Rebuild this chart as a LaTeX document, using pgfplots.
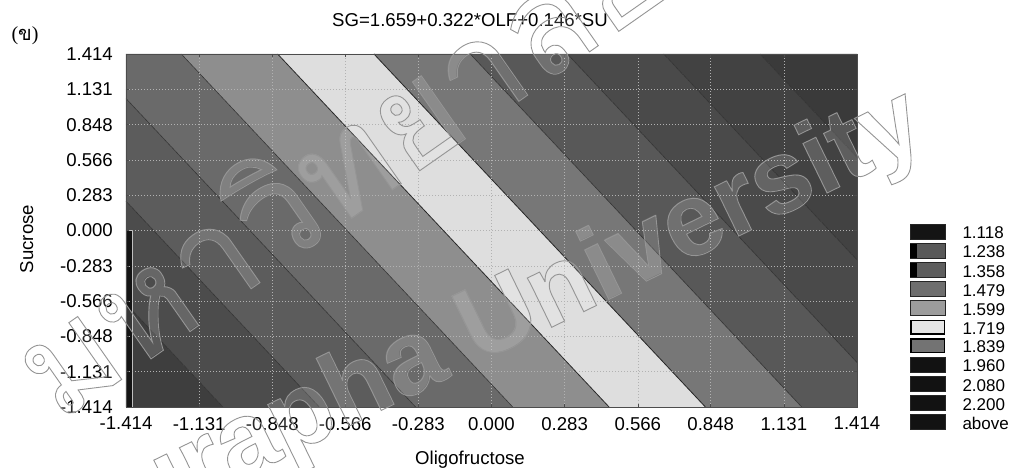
\documentclass[border=0pt]{standalone}
\usepackage{fontspec}
\setmainfont{Liberation Sans}
\newfontfamily\thaifont[Script=Thai]{Loma}
\newfontfamily\seriffont{Liberation Serif}
\newfontfamily\wmfont{Liberation Sans Bold}
\usepackage{pgfplots}
\pgfplotsset{compat=1.18}

% contour band shades, lowest level first
\definecolor{bandA}{HTML}{3E3E3E}
\definecolor{bandB}{HTML}{4C4C4C}
\definecolor{bandC}{HTML}{5C5C5C}
\definecolor{bandD}{HTML}{6A6A6A}
\definecolor{bandE}{HTML}{8E8E8E}
\definecolor{bandF}{HTML}{DEDEDE}
\definecolor{bandG}{HTML}{777777}
\definecolor{bandH}{HTML}{585858}
\definecolor{bandI}{HTML}{4A4A4A}
\definecolor{bandJ}{HTML}{424242}
\definecolor{bandK}{HTML}{3A3A3A}
\definecolor{wmline}{HTML}{959595}

\newcommand\tickfont{\fontsize{18.6}{22}\selectfont}
\newcommand\legfont{\fontsize{17}{20}\selectfont}
% stroke-only glyphs for the repository stamp
\newcommand\outlined[1]{\special{pdf:literal direct 1 Tr 0.9 w}#1\special{pdf:literal direct 0 Tr}}

\pgfplotsset{
  lbox/.style={legend image code/.code={%
      \filldraw[fill=#1, draw=black!85, line width=0.6pt] (0pt,-4pt) rectangle (35pt,11pt);
      \path (52pt,0pt);}},
  lstub/.style={legend image code/.code={%
      \filldraw[fill=#1, draw=black!85, line width=0.6pt] (0pt,-4pt) rectangle (35pt,11pt);
      \fill[black] (0pt,-3pt) rectangle (6pt,10pt);
      \path (52pt,0pt);}},
  lframe/.style={legend image code/.code={%
      \filldraw[fill=#1, draw=black, line width=1.4pt] (0.7pt,-3.3pt) rectangle (34.3pt,10.3pt);
      \path (52pt,0pt);}},
}

\begin{document}
\begin{tikzpicture}
\useasboundingbox (0pt,0pt) rectangle (1009pt,468pt);
\begin{axis}[
  at={(126pt,61pt)}, anchor=south west,
  scale only axis, width=731pt, height=353pt,
  xmin=-1.414, xmax=1.414, ymin=-1.414, ymax=1.414,
  xtick={-1.414,-1.131,-0.848,-0.566,-0.283,0,0.283,0.566,0.848,1.131,1.414},
  ytick={-1.414,-1.131,-0.848,-0.566,-0.283,0,0.283,0.566,0.848,1.131,1.414},
  xticklabels={-1.414,-1.131,-0.848,-0.566,-0.283,0.000,0.283,0.566,0.848,1.131,1.414},
  yticklabels={-1.414,-1.131,-0.848,-0.566,-0.283,0.000,0.283,0.566,0.848,1.131,1.414},
  xticklabel style={font=\tickfont, anchor=north, inner sep=0pt, yshift=-10pt},
  yticklabel style={font=\tickfont, anchor=east, inner sep=0pt, xshift=-13pt},
  grid=major,
  grid style={color=white!70!black, line width=0.55pt, dash pattern=on 1.4pt off 1.6pt},
  axis on top,
  major tick length=3pt, tick align=inside,
  tick style={black!70, line width=0.5pt},
  axis line style={black!70, line width=0.9pt},
  title={SG=1.659+0.322*OLF+0.146*SU},
  every axis title/.style={at={(rel axis cs:0.4706,1.0765)}, anchor=base, font=\tickfont},
  xlabel={Oligofructose},
  every axis x label/.style={at={(rel axis cs:0.4706,-0.1643)}, anchor=base, font=\tickfont},
  ylabel={Sucrose},
  every axis y label/.style={at={(rel axis cs:-0.1272,0.476)}, anchor=base, rotate=90, font=\tickfont},
  legend style={at={(rel axis cs:1.0725,0.5184)}, anchor=north west,
    draw=none, fill=none, inner sep=0pt, outer sep=0pt, row sep=-1.7pt,
    font=\legfont,
    nodes={inner sep=0pt, outer sep=0pt, text height=13pt, text depth=6pt}},
  legend cell align=left,
]
% filled bands of SG = 1.659 + 0.322 OLF + 0.146 SU
\addplot[fill=bandA, draw=none, forget plot] coordinates {(-1.414,-1.414) (-1.03899,-1.414) (-1.414,-0.58693)} -- cycle;
\addplot[fill=bandB, draw=none, forget plot] coordinates {(-1.414,-0.58693) (-1.03899,-1.414) (-0.66632,-1.414) (-1.414,0.23499)} -- cycle;
\addplot[fill=bandC, draw=none, forget plot] coordinates {(-1.414,0.23499) (-0.66632,-1.414) (-0.29365,-1.414) (-1.414,1.05690)} -- cycle;
\addplot[fill=bandD, draw=none, forget plot] coordinates {(-1.414,1.05690) (-0.29365,-1.414) (0.08212,-1.414) (-1.20013,1.414) (-1.414,1.414)} -- cycle;
\addplot[fill=bandE, draw=none, forget plot] coordinates {(-1.20013,1.414) (0.08212,-1.414) (0.45479,-1.414) (-0.82747,1.414)} -- cycle;
\addplot[fill=bandF, draw=none, forget plot] coordinates {(-0.82747,1.414) (0.45479,-1.414) (0.82747,-1.414) (-0.45479,1.414)} -- cycle;
\addplot[fill=bandG, draw=none, forget plot] coordinates {(-0.45479,1.414) (0.82747,-1.414) (1.20013,-1.414) (-0.08212,1.414)} -- cycle;
\addplot[fill=bandH, draw=none, forget plot] coordinates {(-0.08212,1.414) (1.20013,-1.414) (1.414,-1.414) (1.414,-1.05690) (0.29365,1.414)} -- cycle;
\addplot[fill=bandI, draw=none, forget plot] coordinates {(0.29365,1.414) (1.414,-1.05690) (1.414,-0.23499) (0.66632,1.414)} -- cycle;
\addplot[fill=bandJ, draw=none, forget plot] coordinates {(0.66632,1.414) (1.414,-0.23499) (1.414,0.58693) (1.03899,1.414)} -- cycle;
\addplot[fill=bandK, draw=none, forget plot] coordinates {(1.03899,1.414) (1.414,0.58693) (1.414,1.414)} -- cycle;
% contour lines at the legend levels
\addplot[black!80, line width=0.6pt, forget plot] coordinates {(-1.414,-0.58693) (-1.03899,-1.414)};
\addplot[black!80, line width=0.6pt, forget plot] coordinates {(-1.414,0.23499) (-0.66632,-1.414)};
\addplot[black!80, line width=0.6pt, forget plot] coordinates {(-1.414,1.05690) (-0.29365,-1.414)};
\addplot[black!80, line width=0.6pt, forget plot] coordinates {(-1.20013,1.414) (0.08212,-1.414)};
\addplot[black!85, line width=0.8pt, forget plot] coordinates {(-0.82747,1.414) (0.45479,-1.414)};
\addplot[black!85, line width=0.8pt, forget plot] coordinates {(-0.45479,1.414) (0.82747,-1.414)};
\addplot[black!80, line width=0.6pt, forget plot] coordinates {(-0.08212,1.414) (1.20013,-1.414)};
\addplot[black!80, line width=0.6pt, forget plot] coordinates {(0.29365,1.414) (1.414,-1.05690)};
\addplot[black!80, line width=0.6pt, forget plot] coordinates {(0.66632,1.414) (1.414,-0.23499)};
\addplot[black!80, line width=0.6pt, forget plot] coordinates {(1.03899,1.414) (1.414,0.58693)};
% dark strip along the lower left edge
\addplot[fill=black!92, draw=white!75!black, line width=0.5pt, forget plot] coordinates {(-1.414,-1.414) (-1.391,-1.414) (-1.391,0) (-1.414,0)} -- cycle;

% level legend
\addlegendimage{lbox=black!92}   \addlegendentry{1.118}
\addlegendimage{lstub=white!35!black} \addlegendentry{1.238}
\addlegendimage{lstub=white!37!black} \addlegendentry{1.358}
\addlegendimage{lbox=white!43!black} \addlegendentry{1.479}
\addlegendimage{lbox=white!61!black} \addlegendentry{1.599}
\addlegendimage{lframe=white!90!black} \addlegendentry{1.719}
\addlegendimage{lframe=white!45!black} \addlegendentry{1.839}
\addlegendimage{lbox=black!93}   \addlegendentry{1.960}
\addlegendimage{lbox=black!93}   \addlegendentry{2.080}
\addlegendimage{lbox=black!93}   \addlegendentry{2.200}
\addlegendimage{lbox=black!93}   \addlegendentry{above}
\end{axis}

% panel tag
\node[font={\fontsize{20}{22}\selectfont}, inner sep=0pt] at (25pt,432pt) {{\seriffont(}{\thaifont ข}{\seriffont)}};

% repository stamp over the figure
\node[rotate=35, anchor=base west, inner sep=0pt, font={\thaifont\fontsize{138}{140}\selectfont}, text=white, text opacity=0.15] at (58pt,44pt) {มหาวิทยาลัยบูรพา};
\node[rotate=35, anchor=base west, inner sep=0pt, font={\thaifont\fontsize{138}{140}\selectfont}, text=wmline] at (58pt,44pt) {\outlined{มหาวิทยาลัยบูรพา}};
\node[rotate=26, anchor=base west, inner sep=0pt, font={\wmfont\fontsize{104}{106}\selectfont}, text=white, text opacity=0.15] at (72.5pt,-93pt) {Burapha University};
\node[rotate=26, anchor=base west, inner sep=0pt, font={\wmfont\fontsize{104}{106}\selectfont}, text=wmline] at (72.5pt,-93pt) {\outlined{Burapha University}};
\end{tikzpicture}
\end{document}
